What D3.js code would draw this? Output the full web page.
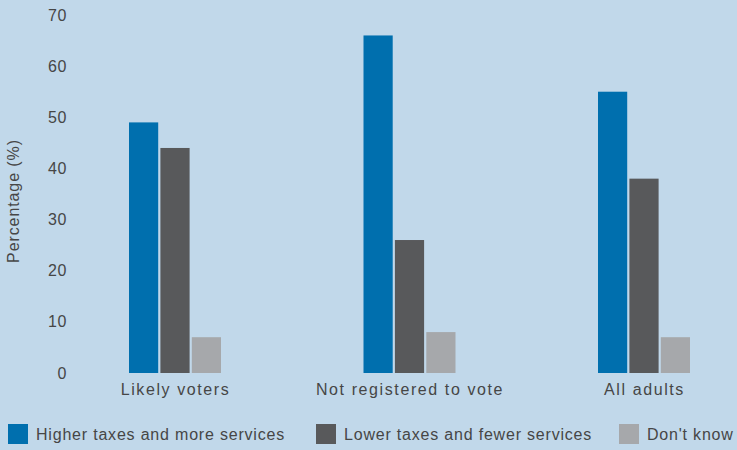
<!DOCTYPE html>
<html>
<head>
<meta charset="utf-8">
<script src="https://cdn.jsdelivr.net/npm/d3@7"></script>
<style>
  html, body { margin: 0; padding: 0; background: #c1d8ea; }
  svg { display: block; font-family: "Liberation Sans", Arial, sans-serif; }
  .tick text { fill: #464646; }
</style>
</head>
<body>
<svg id="chart" width="737" height="450"></svg>
<script>
// Survey groups and the share (%) giving each answer
const categories = ["Likely voters", "Not registered to vote", "All adults"];
const seriesNames = ["Higher taxes and more services", "Lower taxes and fewer services", "Don't know"];
const higherTaxes = [49, 66, 55];
const lowerTaxes = [44, 26, 38];
const dontKnow = [7, 8, 7];
const yTicks = [0, 10, 20, 30, 40, 50, 60, 70];
const colors = ["#006fae", "#58595b", "#a6a8ab"];

const seriesValues = [higherTaxes, lowerTaxes, dontKnow];

const svg = d3.select("#chart");
const textColor = "#464646";

const y = d3.scaleLinear().domain([0, 70]).range([373, 15]);
const x0 = d3.scalePoint().domain(categories).range([175, 644]);
const x1 = d3.scaleBand().domain(seriesNames).range([-46, 46]).paddingInner(0.07);
const color = d3.scaleOrdinal().domain(seriesNames).range(colors);

// Bars
const groups = svg.append("g").selectAll("g")
  .data(categories)
  .join("g")
  .attr("transform", d => `translate(${x0(d)},0)`);

groups.selectAll("rect")
  .data((c, i) => seriesNames.map((s, j) => ({ series: s, value: seriesValues[j][i] })))
  .join("rect")
  .attr("x", d => x1(d.series))
  .attr("width", x1.bandwidth())
  .attr("y", d => y(d.value))
  .attr("height", d => y(0) - y(d.value))
  .attr("fill", d => color(d.series));

// Y axis (labels only)
const yAxis = svg.append("g")
  .attr("transform", "translate(67,0)")
  .call(d3.axisLeft(y).tickValues(yTicks).tickSize(0).tickPadding(0));
yAxis.select(".domain").remove();
yAxis.selectAll("text")
  .style("font-size", "16px")
  .style("letter-spacing", "0.6px")
  .attr("fill", textColor);

// X axis (category labels)
const xAxis = svg.append("g")
  .attr("transform", `translate(0,${y(0)})`)
  .call(d3.axisBottom(x0).tickSize(0).tickPadding(11));
xAxis.select(".domain").remove();
xAxis.selectAll("text")
  .style("font-size", "16px")
  .style("letter-spacing", "1.6px")
  .attr("fill", textColor);

// Y axis title
svg.append("text")
  .attr("transform", "translate(19,201) rotate(-90)")
  .attr("text-anchor", "middle")
  .style("font-size", "16px")
  .style("letter-spacing", "0.9px")
  .attr("fill", textColor)
  .text("Percentage (%)");

// Legend
const legendX = [8, 316, 619];
const legend = svg.append("g").selectAll("g")
  .data(seriesNames)
  .join("g")
  .attr("transform", (d, i) => `translate(${legendX[i]},424)`);
legend.append("rect")
  .attr("width", 20)
  .attr("height", 20)
  .attr("fill", d => color(d));
legend.append("text")
  .attr("x", 28)
  .attr("y", 16)
  .style("font-size", "16px")
  .style("letter-spacing", "0.8px")
  .attr("fill", textColor)
  .text(d => d);
</script>
</body>
</html>
